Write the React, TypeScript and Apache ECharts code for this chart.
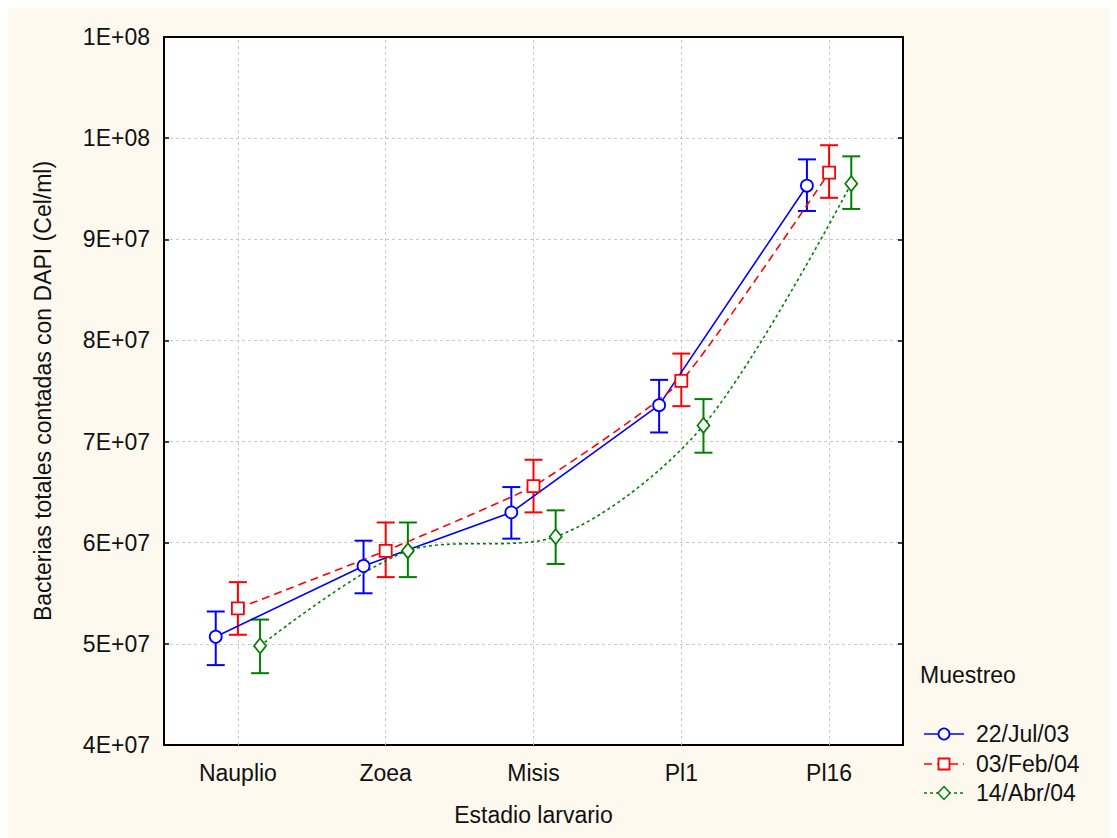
import React, { useEffect, useRef } from "react";
import * as echarts from "echarts";

const categories = ["Nauplio", "Zoea", "Misis", "Pl1", "Pl16"];
const yTickLabels = ["4E+07", "5E+07", "6E+07", "7E+07", "8E+07", "9E+07", "1E+08", "1E+08"];
const seriesNames = ["22/Jul/03", "03/Feb/04", "14/Abr/04"];

const julMean = [5.07e7, 5.77e7, 6.30e7, 7.36e7, 9.53e7];
const julLow = [4.79e7, 5.50e7, 6.04e7, 7.09e7, 9.28e7];
const julHigh = [5.32e7, 6.02e7, 6.55e7, 7.61e7, 9.79e7];

const febMean = [5.35e7, 5.92e7, 6.56e7, 7.60e7, 9.66e7];
const febLow = [5.09e7, 5.66e7, 6.30e7, 7.35e7, 9.41e7];
const febHigh = [5.61e7, 6.20e7, 6.82e7, 7.87e7, 9.93e7];

const abrMean = [4.98e7, 5.92e7, 6.06e7, 7.16e7, 9.55e7];
const abrLow = [4.71e7, 5.66e7, 5.79e7, 6.89e7, 9.30e7];
const abrHigh = [5.24e7, 6.20e7, 6.32e7, 7.42e7, 9.82e7];

const FONT = "Liberation Sans, Arial, sans-serif";
const FS = 23;
const BLUE = "#0000ff";
const RED = "#ff0000";
const GREEN = "#008000";

export default function App() {
  const ref = useRef<HTMLDivElement>(null);
  useEffect(() => {
    const chart = echarts.init(ref.current!, null, { renderer: "svg" });
    const offsets = [-0.15, 0, 0.15];
    const means = [julMean, febMean, abrMean];
    const lows = [julLow, febLow, abrLow];
    const highs = [julHigh, febHigh, abrHigh];
    const colors = [BLUE, RED, GREEN];
    const symbols = ["circle", "rect", "diamond"];
    const symbolSizes: any[] = [12, 12, [12, 15]];
    const lineTypes: any[] = ["solid", [8, 5], [3, 3]];
    const smooths = [false, 0.15, 0.3];

    const series: any[] = [];
    for (let s = 0; s < 3; s++) {
      series.push({
        type: "custom",
        xAxisIndex: 1,
        yAxisIndex: 0,
        z: 2,
        data: categories.map((_, i) => [i + offsets[s], lows[s][i], highs[s][i]]),
        renderItem: (params: any, api: any) => {
          const x = api.value(0);
          const lo = api.coord([x, api.value(1)]);
          const hi = api.coord([x, api.value(2)]);
          const w = 9;
          const st = { stroke: colors[s], lineWidth: 2 };
          return {
            type: "group",
            children: [
              { type: "line", shape: { x1: lo[0], y1: lo[1], x2: hi[0], y2: hi[1] }, style: st },
              { type: "line", shape: { x1: lo[0] - w, y1: lo[1], x2: lo[0] + w, y2: lo[1] }, style: st },
              { type: "line", shape: { x1: hi[0] - w, y1: hi[1], x2: hi[0] + w, y2: hi[1] }, style: st },
            ],
          };
        },
        ...(s === 0
          ? {
              markLine: {
                silent: true,
                symbol: ["none", "none"],
                label: { show: false },
                lineStyle: { color: "#c8c8c8", type: [3, 3], width: 1 },
                z: 1,
                data: categories.map((_, i) => ({ xAxis: i })),
              },
            }
          : {}),
      });
      series.push({
        type: "line",
        name: seriesNames[s],
        xAxisIndex: 1,
        yAxisIndex: 0,
        z: 3,
        data: categories.map((_, i) => [i + offsets[s], means[s][i]]),
        smooth: smooths[s],
        symbol: symbols[s],
        symbolSize: symbolSizes[s],
        showAllSymbol: true,
        lineStyle: { color: colors[s], width: 1.6, type: lineTypes[s] },
        itemStyle: { color: "#ffffff", borderColor: colors[s], borderWidth: 1.8 },
      });
    }

    // legend graphics
    const legendY = [726, 756, 785];
    const legendChildren: any[] = [];
    legendChildren.push({
      type: "text",
      x: 912,
      y: 667,
      style: { text: "Muestreo", font: `${FS}px ${FONT}`, fill: "#111", textVerticalAlign: "middle" },
    });
    for (let s = 0; s < 3; s++) {
      const y = legendY[s];
      legendChildren.push({
        type: "line",
        shape: { x1: 916, y1: y, x2: 956, y2: y },
        style: { stroke: colors[s], lineWidth: 1.6, lineDash: s === 0 ? null : s === 1 ? [8, 5] : [3, 3] },
      });
      if (s === 0) {
        legendChildren.push({ type: "circle", shape: { cx: 936, cy: y, r: 5.5 }, style: { fill: "#fff", stroke: colors[s], lineWidth: 1.8 } });
      } else if (s === 1) {
        legendChildren.push({ type: "rect", shape: { x: 930.5, y: y - 5.5, width: 11, height: 11 }, style: { fill: "#fff", stroke: colors[s], lineWidth: 1.8 } });
      } else {
        legendChildren.push({ type: "polygon", shape: { points: [[936, y - 6.5], [942, y], [936, y + 6.5], [930, y]] }, style: { fill: "#fff", stroke: colors[s], lineWidth: 1.5 } });
      }
      legendChildren.push({
        type: "text",
        x: 968,
        y: y,
        style: { text: seriesNames[s], font: `${FS}px ${FONT}`, fill: "#111", textVerticalAlign: "middle" },
      });
    }

    chart.setOption({
      animation: false,
      backgroundColor: "#fdf9ef",
      grid: { left: 156, top: 29, width: 739, height: 708, backgroundColor: "#ffffff", show: true, borderWidth: 0 },
      xAxis: [
        {
          type: "category",
          data: categories,
          boundaryGap: true,
          position: "bottom",
          name: "Estadio larvario",
          nameLocation: "middle",
          nameGap: 58,
          nameTextStyle: { fontFamily: FONT, fontSize: FS, color: "#111" },
          axisLine: { lineStyle: { color: "#000", width: 2 } },
          axisTick: { inside: true, alignWithLabel: true, length: 5, lineStyle: { color: "#000", width: 1.5 } },
          axisLabel: { fontFamily: FONT, fontSize: FS, color: "#111", margin: 16 },
          splitLine: { show: false },
        },
        { type: "value", min: -0.5, max: 4.5, show: false },
        {
          type: "category",
          data: categories,
          position: "top",
          axisLine: { lineStyle: { color: "#000", width: 2 } },
          axisTick: { inside: true, alignWithLabel: true, length: 5, lineStyle: { color: "#000", width: 1.5 } },
          axisLabel: { show: false },
          splitLine: { show: false },
        },
      ],
      yAxis: [
        {
          type: "value",
          min: 4e7,
          max: 1.1e8,
          interval: 1e7,
          name: "Bacterias totales contadas con DAPI (Cel/ml)",
          nameLocation: "middle",
          nameGap: 110,
          nameTextStyle: { fontFamily: FONT, fontSize: FS, color: "#111" },
          axisLine: { show: true, onZero: false, lineStyle: { color: "#000", width: 2 } },
          axisTick: { show: true, inside: true, length: 5, lineStyle: { color: "#000", width: 1.5 } },
          axisLabel: {
            fontFamily: FONT,
            fontSize: FS,
            color: "#111",
            margin: 14,
            formatter: (v: number) => yTickLabels[Math.round((v - 4e7) / 1e7)] ?? "",
          },
          splitLine: { show: true, lineStyle: { color: "#c8c8c8", type: [3, 3], width: 1 } },
        },
        {
          type: "value",
          min: 4e7,
          max: 1.1e8,
          interval: 1e7,
          position: "right",
          axisLine: { show: true, onZero: false, lineStyle: { color: "#000", width: 2 } },
          axisTick: { show: true, inside: true, length: 5, lineStyle: { color: "#000", width: 1.5 } },
          axisLabel: { show: false },
          splitLine: { show: false },
        },
      ],
      graphic: legendChildren,
      series,
    });
    return () => chart.dispose();
  }, []);
  return <div ref={ref} style={{ width: 1109, height: 830 }} />;
}
